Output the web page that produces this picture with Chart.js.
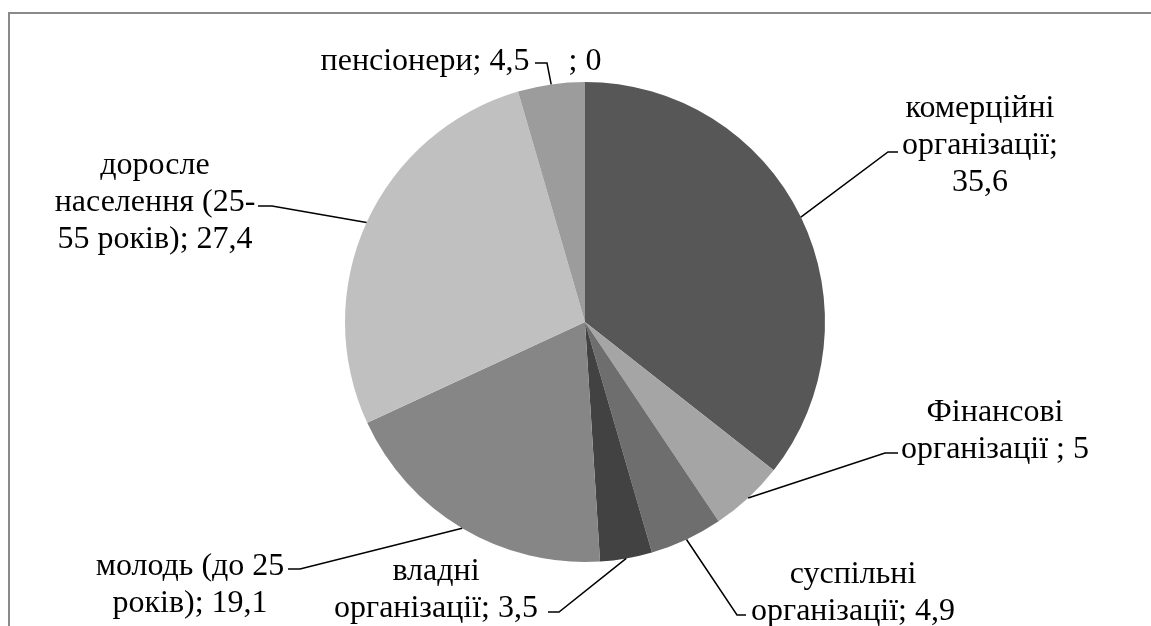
<!DOCTYPE html>
<html lang="uk">
<head>
<meta charset="utf-8">
<title>Структура аудиторії</title>
<script src="https://cdn.jsdelivr.net/npm/chart.js@4.4.1/dist/chart.umd.min.js"></script>
<style>
  html, body { margin: 0; padding: 0; background: #fff; overflow: hidden; }
  #wrap { position: relative; width: 1151px; height: 626px; }
  #frame {
    position: absolute; left: 8px; top: 12px; width: 1200px; height: 700px;
    border: 2px solid #8a8a8a; box-sizing: border-box;
  }
  #chart { position: absolute; left: 0; top: 0; }
</style>
</head>
<body>
<div id="wrap">
  <div id="frame"></div>
  <canvas id="chart" width="1151" height="626"></canvas>
</div>
<script>
// Categories and values (per cent)
const categories = [
  'комерційні організації',
  'Фінансові організації ',
  'суспільні організації',
  'владні організації',
  'молодь (до 25 років)',
  'доросле населення (25-55 років)',
  'пенсіонери',
  ''
];
const values = [35.6, 5, 4.9, 3.5, 19.1, 27.4, 4.5, 0];
const sliceColors = ['#575757', '#a5a5a5', '#6e6e6e', '#424242', '#868686', '#c0c0c0', '#9c9c9c', '#ffffff'];

// Label text lines as they are broken in the picture
const labelLines = [
  ['комерційні', 'організації;', '35,6'],
  ['Фінансові', 'організації ; 5'],
  ['суспільні', 'організації; 4,9'],
  ['владні', 'організації; 3,5'],
  ['молодь (до 25', 'років); 19,1'],
  ['доросле', 'населення (25-', '55 років); 27,4'],
  ['пенсіонери; 4,5'],
  ['; 0']
];

// Where each label sits: centre x, first baseline, and the leader's text-side end
const labelLayout = [
  { x: 980, y: 117, lead: [[898, 152], [888, 152]] },
  { x: 995, y: 421, lead: [[898, 453], [885, 453]] },
  { x: 853, y: 583, lead: [[746, 615], [737, 615]] },
  { x: 436, y: 580, lead: [[548, 612], [559, 612]] },
  { x: 190, y: 575, lead: [[288, 569], [300, 569]] },
  { x: 155, y: 174, lead: [[258, 206], [272, 206]] },
  { x: 425, y: 70,  lead: [[535, 63], [547, 63]] },
  { x: 585, y: 70,  lead: null }
];

const FONT = '32px "Liberation Serif", "Times New Roman", serif';
const LINE_H = 37;

const sliceLabels = {
  id: 'sliceLabels',
  afterDatasetsDraw(chart) {
    const ctx = chart.ctx;
    const arcs = chart.getDatasetMeta(0).data;
    ctx.save();
    ctx.font = FONT;
    ctx.fillStyle = '#000';
    ctx.textAlign = 'center';
    ctx.textBaseline = 'alphabetic';
    ctx.strokeStyle = '#000';
    ctx.lineWidth = 1.5;
    arcs.forEach((arc, i) => {
      const L = labelLayout[i];
      labelLines[i].forEach((t, k) => ctx.fillText(t, L.x, L.y + k * LINE_H));
      if (!L.lead) return;
      // leader goes from the slice's outer edge at its middle angle
      const p = arc.getProps(['x', 'y', 'startAngle', 'endAngle', 'outerRadius'], true);
      const mid = (p.startAngle + p.endAngle) / 2;
      const ex = p.x + Math.cos(mid) * p.outerRadius;
      const ey = p.y + Math.sin(mid) * p.outerRadius;
      ctx.beginPath();
      ctx.moveTo(L.lead[0][0], L.lead[0][1]);
      ctx.lineTo(L.lead[1][0], L.lead[1][1]);
      ctx.lineTo(ex, ey);
      ctx.stroke();
    });
    ctx.restore();
  }
};

new Chart(document.getElementById('chart'), {
  type: 'pie',
  data: {
    labels: categories,
    datasets: [{
      data: values,
      backgroundColor: sliceColors,
      borderWidth: 0
    }]
  },
  options: {
    responsive: false,
    animation: false,
    layout: { padding: { top: 82, bottom: 64, left: 345, right: 326 } },
    plugins: {
      legend: { display: false },
      tooltip: { enabled: false }
    }
  },
  plugins: [sliceLabels]
});
</script>
</body>
</html>
